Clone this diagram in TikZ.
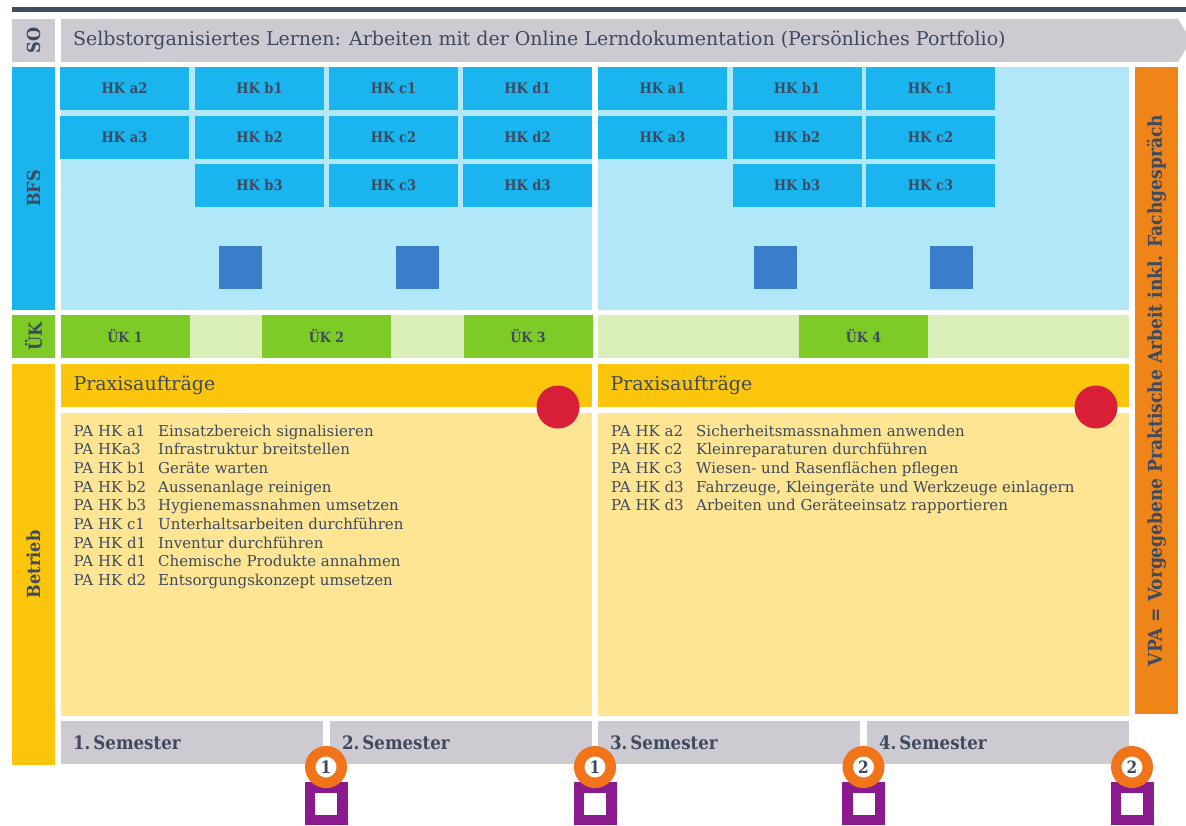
\documentclass[tikz,border=0pt]{standalone}
\usepackage{fontspec}
\setmainfont{DejaVu Serif}
\newfontfamily\slabcond{DejaVu Serif Condensed}
\usetikzlibrary{positioning}

\definecolor{inkdark}{HTML}{3E4A5F}
\definecolor{topbar}{HTML}{434C5E}
\definecolor{sogray}{HTML}{CDCAD2}
\definecolor{bfsblue}{HTML}{1AB4EE}
\definecolor{bfslight}{HTML}{B2E7F8}
\definecolor{squareblue}{HTML}{3A7DC9}
\definecolor{ukgreen}{HTML}{7ECB27}
\definecolor{uklight}{HTML}{D9EEB9}
\definecolor{payellow}{HTML}{FBC50B}
\definecolor{palight}{HTML}{FDE594}
\definecolor{pared}{HTML}{D81F36}
\definecolor{vpaorange}{HTML}{EF8519}
\definecolor{badgeorange}{HTML}{F1731A}
\definecolor{lappurple}{HTML}{8B1A8E}

\begin{document}
\begin{tikzpicture}[x=1pt,y=-1pt,
    box/.style={rectangle,inner sep=0pt,outer sep=0pt,text=inkdark},
    side/.style={box,rotate=90,minimum height=43pt,font=\slabcond\bfseries\fontsize{18}{18}\selectfont},
    panel/.style={box,minimum width=531pt},
    hk/.style={box,fill=bfsblue,minimum width=129pt,minimum height=43pt,font=\slabcond\bfseries\fontsize{14.5}{14.5}\selectfont},
    sq/.style={box,fill=squareblue,minimum size=43pt},
    uk/.style={box,fill=ukgreen,minimum width=129pt,minimum height=43pt,font=\slabcond\bfseries\fontsize{14}{14}\selectfont},
    pahead/.style={panel,fill=payellow,minimum height=43pt,inner xsep=12.5pt,text width=506pt,align=left,font=\fontsize{19}{19}\selectfont},
    dot/.style={circle,fill=pared,inner sep=0pt,minimum size=43pt},
    item/.style={text=inkdark,inner sep=0pt,anchor=base west,font=\fontsize{15}{15}\selectfont},
    sem/.style={box,fill=sogray,minimum width=262pt,minimum height=43pt,inner xsep=12pt,text width=238pt,align=left,font=\slabcond\bfseries\fontsize{18.5}{18.5}\selectfont},
    badge/.style={circle,fill=white,draw=badgeorange,line width=10.5pt,inner sep=0pt,minimum size=31.5pt,text=inkdark,font=\slabcond\bfseries\fontsize{17}{17}\selectfont},
    lap/.style={rectangle,fill=white,draw=lappurple,line width=10.5pt,inner sep=0pt,minimum size=32.5pt}]
    \useasboundingbox (0,0) rectangle (1186,826);

    \fill[topbar] (12,7) rectangle (1186,12);
    \fill[sogray] (61,19) -- (1178,19) -- (1191,40.5) -- (1178,62) -- (61,62) -- cycle;
    \node[box,anchor=west,font=\fontsize{19}{19}\selectfont] (sotitle) at (73,40.5) {Selbstorganisiertes Lernen: Arbeiten mit der Online Lerndokumentation (Persönliches Portfolio)};

    \node[side,fill=sogray,minimum width=43pt] (solab) at (33.5,40.5) {SO};
    \node[side,fill=bfsblue,minimum width=243pt] (bfslab) at (33.5,188.5) {BFS};
    \node[side,fill=ukgreen,minimum width=43pt] (uklab) at (33.5,336.5) {ÜK};
    \node[side,fill=payellow,minimum width=401pt] (betrlab) at (33.5,564.5) {Betrieb};
    \node[side,fill=vpaorange,minimum width=647pt,font=\slabcond\bfseries\fontsize{19}{19}\selectfont] (vpa) at (1156.5,390.5) {VPA = Vorgegebene Praktische Arbeit inkl. Fachgespräch};

    \node[panel,fill=bfslight,minimum height=243pt] (bfsleft) at (326.5,188.5) {};
    \node[panel,fill=bfslight,minimum height=243pt] (bfsright) at (863.5,188.5) {};
    \foreach \name/\x/\y in {a2/124.5/88.5,b1/259.5/88.5,c1/393.5/88.5,d1/527.5/88.5,
        a3/124.5/137.5,b2/259.5/137.5,c2/393.5/137.5,d2/527.5/137.5,
        b3/259.5/185.5,c3/393.5/185.5,d3/527.5/185.5}
        \node[hk] (hkl\name) at (\x,\y) {HK \name};
    \foreach \name/\x/\y in {a1/662.5/88.5,b1/797/88.5,c1/930.5/88.5,
        a3/662.5/137.5,b2/797/137.5,c2/930.5/137.5,
        b3/797/185.5,c3/930.5/185.5}
        \node[hk] (hkr\name) at (\x,\y) {HK \name};
    \foreach \x [count=\i] in {240.5,417.5,775.5,951.5}
        \node[sq] (sq\i) at (\x,267.5) {};

    \node[panel,fill=uklight,minimum height=43pt] (ukleft) at (326.5,336.5) {};
    \node[panel,fill=uklight,minimum height=43pt] (ukright) at (863.5,336.5) {};
    \foreach \n/\x in {1/125,2/326.5,3/528,4/863.5}
        \node[uk] (uk\n) at (\x,336.5) {ÜK \n};

    \node[pahead] (paheadl) at (326.5,385.5) {Praxisaufträge};
    \node[pahead] (paheadr) at (863.5,385.5) {Praxisaufträge};
    \node[panel,fill=palight,minimum height=303pt] (pabodyl) at (326.5,564.5) {};
    \node[panel,fill=palight,minimum height=303pt] (pabodyr) at (863.5,564.5) {};
    \node[dot] (dotl) at (558,407) {};
    \node[dot] (dotr) at (1096,407) {};

    \foreach \code/\task [count=\i] in {PA HK a1/Einsatzbereich signalisieren,PA HKa3/Infrastruktur breitstellen,
        PA HK b1/Geräte warten,PA HK b2/Aussenanlage reinigen,PA HK b3/Hygienemassnahmen umsetzen,
        PA HK c1/Unterhaltsarbeiten durchführen,PA HK d1/Inventur durchführen,
        PA HK d1/Chemische Produkte annahmen,PA HK d2/Entsorgungskonzept umsetzen}
    {
        \node[item] (lcode\i) at (73.5,{417.3+18.7*\i}) {\code};
        \node[item] (ltask\i) at (158,{417.3+18.7*\i}) {\task};
    }
    \foreach \code/\task [count=\i] in {PA HK a2/Sicherheitsmassnahmen anwenden,PA HK c2/Kleinreparaturen durchführen,
        PA HK c3/Wiesen- und Rasenflächen pflegen,PA HK d3/{Fahrzeuge, Kleingeräte und Werkzeuge einlagern},
        PA HK d3/Arbeiten und Geräteeinsatz rapportieren}
    {
        \node[item] (rcode\i) at (611,{417.3+18.7*\i}) {\code};
        \node[item] (rtask\i) at (696,{417.3+18.7*\i}) {\task};
    }

    \foreach \n/\x in {1/192,2/461,3/729,4/998}
        \node[sem] (sem\n) at (\x,742.5) {\n.\,Semester};

    \foreach \x/\n [count=\i] in {326/1,595/1,863.5/2,1132/2}
    {
        \node[lap] (lap\i) at (\x,803.5) {};
        \node[badge] (badge\i) at (\x,767) {\n};
    }
\end{tikzpicture}
\end{document}
